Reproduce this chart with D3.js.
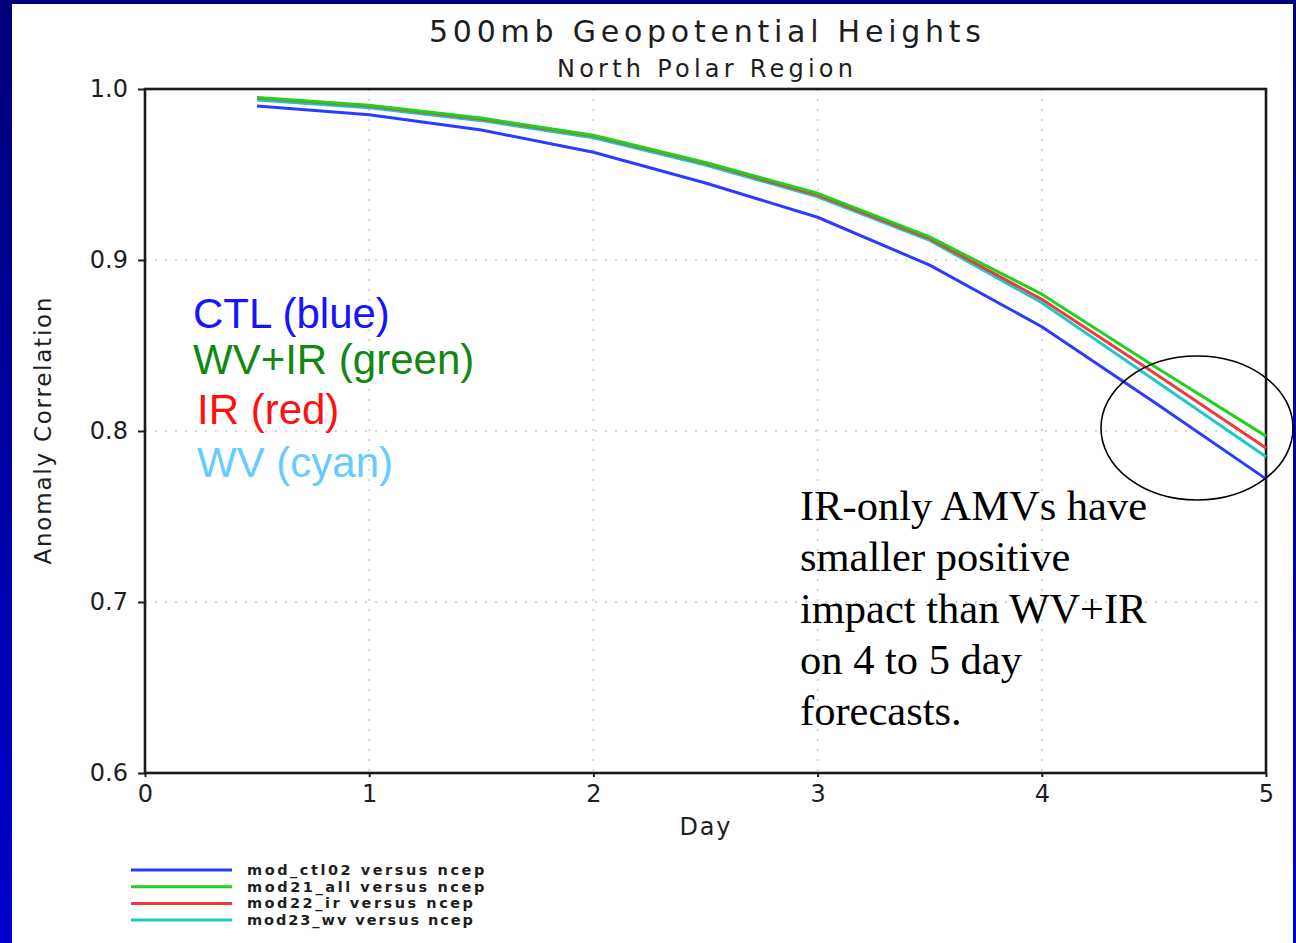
<!DOCTYPE html>
<html><head><meta charset="utf-8">
<script src="https://cdn.jsdelivr.net/npm/d3@7"></script>
<style>html,body{margin:0;padding:0;background:#fff;overflow:hidden}</style>
</head><body>
<svg id="c" width="1296" height="943"></svg>
<script>
const days = [0.5, 1, 1.5, 2, 2.5, 3, 3.5, 4, 4.5, 5];
const ctl  = [0.990, 0.985, 0.976, 0.963, 0.945, 0.925, 0.897, 0.861, 0.817, 0.772];
const all  = [0.995, 0.9905, 0.983, 0.973, 0.957, 0.939, 0.9135, 0.880, 0.838, 0.797];
const ir   = [0.9948, 0.990, 0.9825, 0.9725, 0.9565, 0.938, 0.9125, 0.877, 0.834, 0.790];
const wv   = [0.9935, 0.989, 0.9815, 0.9715, 0.9555, 0.937, 0.9115, 0.875, 0.830, 0.785];
const xTicks = [0, 1, 2, 3, 4, 5];
const yTicks = [0.6, 0.7, 0.8, 0.9, 1.0];
const seriesNames = ["mod_ctl02 versus ncep", "mod21_all versus ncep", "mod22_ir versus ncep", "mod23_wv versus ncep"];
const seriesColors = ["#2a3cff", "#1ed21e", "#f03a3a", "#1ec8c8"];
const noteLabels = ["CTL (blue)", "WV+IR (green)", "IR (red)", "WV (cyan)"];
const noteColors = ["#1414ff", "#118811", "#ff1010", "#66ccff"];
const commentLines = ["IR-only AMVs have", "smaller positive", "impact than WV+IR", "on 4 to 5 day", "forecasts."];

const svg = d3.select("#c");
const W = 1296, H = 943;

// blue slide frame
const defs = svg.append("defs");
const g = defs.append("linearGradient").attr("id","bg").attr("x1",0).attr("y1",0).attr("x2",0).attr("y2",1);
g.append("stop").attr("offset","0%").attr("stop-color","#000078");
g.append("stop").attr("offset","100%").attr("stop-color","#0000d0");
svg.append("rect").attr("width",W).attr("height",H).attr("fill","url(#bg)");
svg.append("rect").attr("x",12).attr("y",4).attr("width",1281).attr("height",H-4).attr("fill","#fff");

const x = d3.scaleLinear().domain([0,5]).range([145,1266]);
const y = d3.scaleLinear().domain([0.6,1.0]).range([773,89]);

const gf = "'DejaVu Sans', sans-serif";
const ink = "#1e1e1e";

// grid
const grid = svg.append("g");
grid.selectAll("line.gx").data(xTicks.slice(1,-1)).join("line")
  .attr("x1",d=>x(d)).attr("x2",d=>x(d)).attr("y1",y(1.0)).attr("y2",y(0.6))
  .attr("stroke","#c8c8c8").attr("stroke-width",1.5).attr("stroke-dasharray","2,8");
grid.selectAll("line.gy").data(yTicks.slice(1,-1)).join("line")
  .attr("y1",d=>y(d)).attr("y2",d=>y(d)).attr("x1",x(0)).attr("x2",x(5))
  .attr("stroke","#c8c8c8").attr("stroke-width",1.5).attr("stroke-dasharray","2,8");

// axes
const xAxis = svg.append("g").attr("transform",`translate(0,${y(0.6)})`)
  .call(d3.axisBottom(x).tickValues(xTicks).tickFormat(d3.format("d")).tickSize(4).tickPadding(8));
const yAxis = svg.append("g").attr("transform",`translate(${x(0)},0)`)
  .call(d3.axisLeft(y).tickValues(yTicks).tickFormat(d3.format(".1f")).tickSize(7).tickPadding(10));
[xAxis,yAxis].forEach(a=>{
  a.select(".domain").remove();
  a.selectAll(".tick line").attr("stroke",ink).attr("stroke-width",2);
  a.selectAll(".tick text").attr("font-family",gf).attr("font-size",24).attr("fill",ink);
});
xAxis.selectAll(".tick text").attr("dy","0.72em");
yAxis.selectAll(".tick text").attr("dy","0.3em");
svg.append("rect").attr("x",x(0)).attr("y",y(1.0)).attr("width",x(5)-x(0)).attr("height",y(0.6)-y(1.0))
  .attr("fill","none").attr("stroke","#1a1a1a").attr("stroke-width",2.6);

// lines
const data = [ctl, all, ir, wv];
const line = d3.line().x((d,i)=>x(days[i])).y(d=>y(d));
const order = [0,3,2,1];
order.forEach(k=>{
  svg.append("path").datum(data[k]).attr("d",line).attr("fill","none")
    .attr("stroke",seriesColors[k]).attr("stroke-width",3).attr("stroke-linejoin","round");
});

// titles
svg.append("text").attr("x",705).attr("y",42).attr("text-anchor","middle").attr("font-family",gf)
  .attr("font-size",30).attr("fill",ink).attr("textLength",552).attr("lengthAdjust","spacing")
  .text("500mb Geopotential Heights");
svg.append("text").attr("x",705).attr("y",77).attr("text-anchor","middle").attr("font-family",gf)
  .attr("font-size",24).attr("fill",ink).attr("textLength",296).attr("lengthAdjust","spacing")
  .text("North Polar Region");
svg.append("text").attr("x",705).attr("y",835).attr("text-anchor","middle").attr("font-family",gf)
  .attr("font-size",24).attr("fill",ink).attr("textLength",51).attr("lengthAdjust","spacing").text("Day");
svg.append("text").attr("transform","translate(51,431) rotate(-90)").attr("text-anchor","middle")
  .attr("font-family",gf).attr("font-size",23).attr("fill",ink).attr("textLength",267).attr("lengthAdjust","spacing")
  .text("Anomaly Correlation");

// legend
const lg = svg.append("g");
seriesNames.forEach((n,i)=>{
  const yy = 870 + i*16.7;
  lg.append("line").attr("x1",131).attr("x2",232).attr("y1",yy).attr("y2",yy)
    .attr("stroke",seriesColors[i]).attr("stroke-width",3);
  lg.append("text").attr("x",247).attr("y",yy+5).attr("font-family",gf).attr("font-size",14.5).attr("font-weight","bold")
    .attr("fill",ink).attr("textLength",n.length*11.3).attr("lengthAdjust","spacing").text(n);
});

// annotation labels
noteLabels.forEach((t,i)=>{
  svg.append("text").attr("x",i>=2?197:193).attr("y",[328,374,424,477][i]).attr("font-family","'Liberation Sans', Arial, sans-serif")
    .attr("font-size",42).attr("fill",noteColors[i]).text(t);
});

commentLines.forEach((t,i)=>{
  svg.append("text").attr("x",800).attr("y",520+i*51.3).attr("font-family","'Liberation Serif', 'Times New Roman', serif")
    .attr("font-size",42.5).attr("fill","#000").text(t);
});

// ellipse highlight
svg.append("ellipse").attr("cx",1197).attr("cy",428).attr("rx",96).attr("ry",72)
  .attr("fill","none").attr("stroke","#000").attr("stroke-width",1.6);
</script>
</body></html>
